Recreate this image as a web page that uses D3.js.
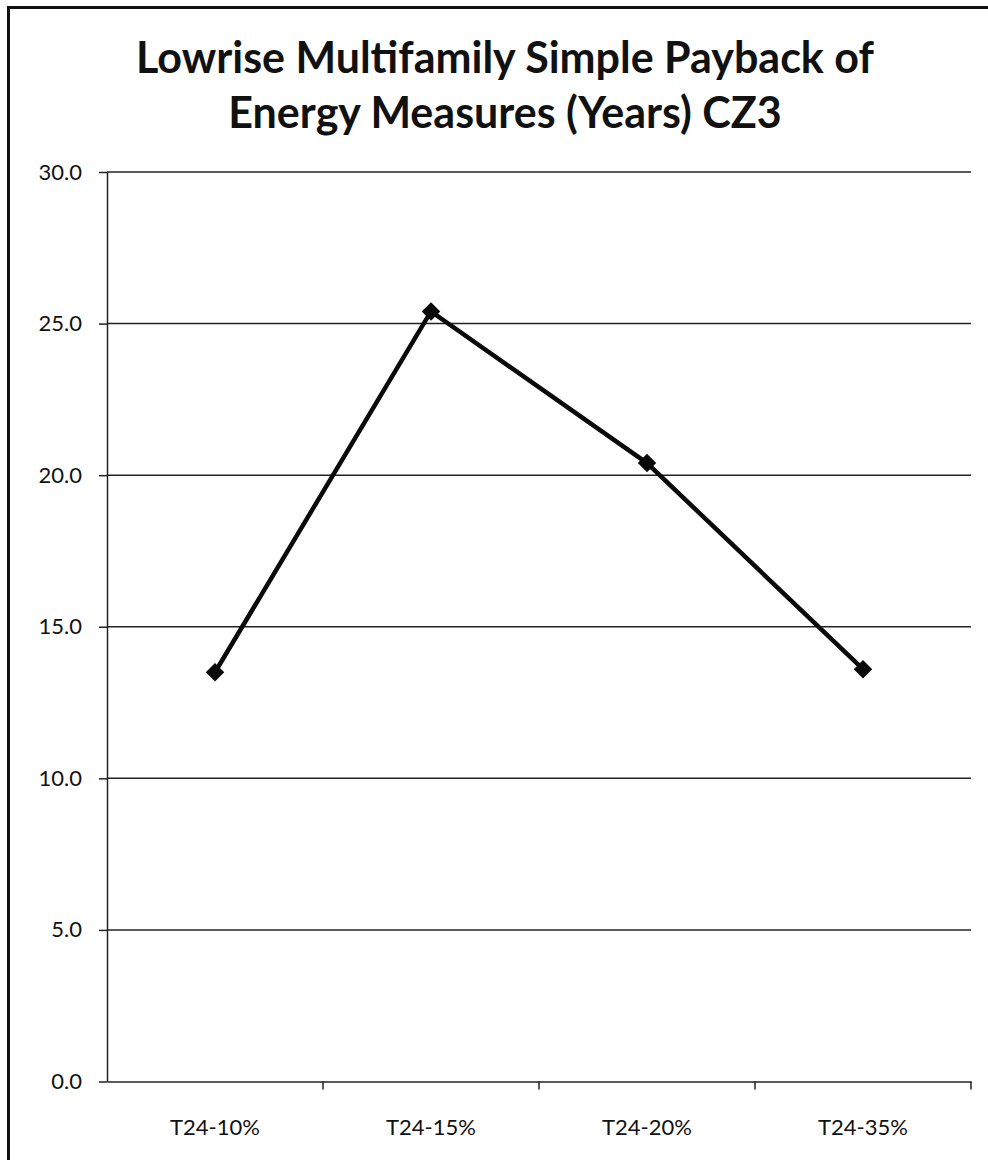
<!DOCTYPE html>
<html>
<head>
<meta charset="utf-8">
<script src="https://cdn.jsdelivr.net/npm/d3@7"></script>
<style>
	body { margin: 0; background: #fff; }
	svg { display: block; }
</style>
</head>
<body>
<div id="chart"></div>
<script>
var categories = ["T24-10%", "T24-15%", "T24-20%", "T24-35%"];
var payback = [13.5, 25.4, 20.4, 13.6];
var yTicks = [0, 5, 10, 15, 20, 25, 30];
var titleLines = ["Lowrise Multifamily Simple Payback of", "Energy Measures (Years) CZ3"];

(function () {
	var w = 988;
	var h = 1160;
	var left = 107, right = 971, top = 172, bottom = 1081.5;

	var data = categories.map(function (c, i) { return { cat: c, val: payback[i] }; });

	var svg = d3.select('#chart')
		.append('svg')
		.attr('width', w)
		.attr('height', h);

	// outer border (runs off right and bottom in the scan)
	svg.append('rect')
		.attr('x', 8.5)
		.attr('y', 7.5)
		.attr('width', 990)
		.attr('height', 1170)
		.attr('fill', 'none')
		.attr('stroke', '#111')
		.attr('stroke-width', 3);

	svg.selectAll('.title')
		.data(titleLines)
		.enter()
		.append('text')
		.attr('class', 'title')
		.text(function (d) { return d; })
		.attr('x', 505)
		.attr('y', function (d, i) { return 73 + i * 55; })
		.attr('text-anchor', 'middle')
		.attr('font-family', 'Lato, sans-serif')
		.attr('font-weight', 'bold')
		.attr('font-size', '43px')
		.attr('fill', '#111');

	var x = d3.scaleBand()
		.domain(categories)
		.range([left, right]);

	var y = d3.scaleLinear()
		.domain([0, 30])
		.range([bottom, top]);

	// gridlines
	svg.selectAll('.grid')
		.data(yTicks.slice(1))
		.enter()
		.append('line')
		.attr('class', 'grid')
		.attr('x1', left)
		.attr('x2', right)
		.attr('y1', function (d) { return y(d); })
		.attr('y2', function (d) { return y(d); })
		.attr('stroke', '#222')
		.attr('stroke-width', 1.5);

	var yAxis = svg.append('g')
		.attr('transform', 'translate(' + left + ',0)')
		.call(d3.axisLeft(y)
			.tickValues(yTicks)
			.tickSizeInner(8)
			.tickSizeOuter(0)
			.tickPadding(17)
			.tickFormat(d3.format('.1f')));

	var xAxis = svg.append('g')
		.attr('transform', 'translate(0,' + bottom + ')')
		.call(d3.axisBottom(x).tickSize(0).tickPadding(38));

	// ticks between categories
	xAxis.selectAll('.sep')
		.data(categories.map(function (c) { return x(c) + x.bandwidth(); }))
		.enter()
		.append('line')
		.attr('class', 'sep')
		.attr('x1', function (d) { return d; })
		.attr('x2', function (d) { return d; })
		.attr('y1', 0)
		.attr('y2', 8)
		.attr('stroke', '#222')
		.attr('stroke-width', 1.5);

	[yAxis, xAxis].forEach(function (g) {
		g.selectAll('path, line').attr('stroke', '#222').attr('stroke-width', 1.5);
		g.selectAll('text')
			.attr('font-family', 'Lato, sans-serif')
			.attr('font-size', '22px')
			.attr('fill', '#111');
	});

	var lineFn = d3.line()
		.x(function (d) { return x(d.cat) + x.bandwidth() / 2; })
		.y(function (d) { return y(d.val); })
		.curve(d3.curveLinear);

	svg.append('path')
		.attr('d', lineFn(data))
		.attr('stroke', '#0a0a0a')
		.attr('stroke-width', 4.5)
		.attr('fill', 'none');

	svg.selectAll('.marker')
		.data(data)
		.enter()
		.append('path')
		.attr('class', 'marker')
		.attr('d', d3.symbol().type(d3.symbolSquare).size(170))
		.attr('transform', function (d) {
			return 'translate(' + (x(d.cat) + x.bandwidth() / 2) + ',' + y(d.val) + ') rotate(45)';
		})
		.attr('fill', '#0a0a0a');
})();
</script>
</body>
</html>
